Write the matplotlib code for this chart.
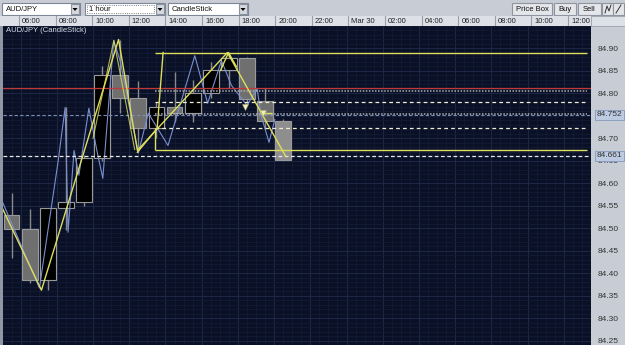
import matplotlib
matplotlib.use('Agg')
import matplotlib.pyplot as plt
import matplotlib.transforms as mtransforms
from matplotlib.patches import Rectangle, Polygon
import numpy as np

plt.rcParams['font.family'] = ['Liberation Sans', 'DejaVu Sans']

# hourly candles, Mar 29 (hour of day)
candle_hours = [5, 6, 7, 8, 9, 10, 11, 12, 13, 14, 15, 16, 17, 18, 19, 20]
opens = [84.529, 84.498, 84.384, 84.544, 84.558, 84.656, 84.842, 84.789,
         84.722, 84.769, 84.756, 84.800, 84.851, 84.878, 84.782, 84.738]
highs = [84.578, 84.542, 84.546, 84.769, 84.662, 84.862, 84.918, 84.827,
         84.780, 84.847, 84.829, 84.869, 84.891, 84.880, 84.811, 84.742]
lows = [84.433, 84.378, 84.362, 84.496, 84.550, 84.650, 84.756, 84.673,
        84.700, 84.736, 84.736, 84.790, 84.813, 84.775, 84.720, 84.651]
closes = [84.498, 84.384, 84.544, 84.558, 84.656, 84.842, 84.789, 84.722,
          84.769, 84.756, 84.800, 84.851, 84.878, 84.787, 84.738, 84.651]

# finer price line
line_hours = [4.96, 7.04, 8.08, 8.46, 8.62, 8.95, 9.22, 9.77, 10.21, 10.54, 11.14,
              11.52, 12.50, 13.05, 14.14, 15.62, 16.33, 17.09, 17.64, 18.51,
              19.06, 19.28, 19.72, 20.04]
line_prices = [84.562, 84.367, 84.651, 84.769, 84.491, 84.673, 84.618, 84.767,
               84.673, 84.611, 84.918, 84.869, 84.667, 84.756, 84.684, 84.884,
               84.778, 84.873, 84.818, 84.773, 84.811, 84.751, 84.691, 84.742]

# zigzag
zz_hours = [4.96, 7.15, 11.41, 12.45, 17.42, 20.64]
zz_prices = [84.547, 84.362, 84.920, 84.673, 84.891, 84.660]
zz2_hours = [12.45, 13.54, 13.87]
zz2_prices = [84.669, 84.722, 84.891]
zz3_hours = [10.0, 11.15, 12.30]
zz3_prices = [84.700, 84.918, 84.675]
peak_hours = [17.04, 17.48, 17.91]
peak_prices = [84.851, 84.891, 84.860]

# price box and levels
box_left = 13.43
box_top = 84.891
box_bottom = 84.673
box_notch = 84.722
red_level = 84.813
dotted_levels = [84.806, 84.755]
dashed_levels = [84.781, 84.724]
last_price = 84.752
bid_price = 84.661
marker_hours = [18.40, 19.39]
marker_prices = [84.769, 84.756]
stub_hours = [19.28, 19.88]

tick_hours = [6, 8, 10, 12, 14, 16, 18, 20, 22, 24, 26, 28, 30, 32, 34, 36]
tick_labels = ['06:00', '08:00', '10:00', '12:00', '14:00', '16:00', '18:00', '20:00',
               '22:00', 'Mar 30', '02:00', '04:00', '06:00', '08:00', '10:00', '12:00']
price_ticks = [84.25, 84.30, 84.35, 84.40, 84.45, 84.50, 84.55, 84.60,
               84.65, 84.70, 84.80, 84.85, 84.90]

W, H = 625, 345
YEL = '#dede5e'
fig = plt.figure(figsize=(W / 100, H / 100), dpi=100)
fig.patch.set_facecolor('#c8ccd4')

# ---- toolbar drawn in pixel space
ui = fig.add_axes([0, 0, 1, 1])
ui.set_xlim(0, W)
ui.set_ylim(H, 0)
ui.axis('off')

def box(x0, y0, x1, y1, fc, ec, lw=0.8, ls='-'):
    ui.add_patch(Rectangle((x0, y0), x1 - x0, y1 - y0, fc=fc, ec=ec, lw=lw, ls=ls))

for x0, x1, lab, focus in [(2, 80, 'AUD/JPY', False), (85, 165, '1 hour', True),
                           (168, 248, 'CandleStick', False)]:
    box(x0, 3, x1, 15, 'white', '#7d8796')
    box(x1 - 9, 4, x1 - 1, 14, '#d6d9de', '#8a929e')
    ui.add_patch(Polygon([(x1 - 7.5, 8), (x1 - 2.5, 8), (x1 - 5, 11)], fc='black', ec='none'))
    if focus:
        box(x0 + 2, 5, x1 - 11, 13, 'none', '#555555', lw=0.6, ls=':')
    ui.text(x0 + 4, 9.3, lab, fontsize=5.5, va='center', ha='left', color='#111111')

for x0, x1, lab in [(512, 552, 'Price Box'), (554, 576, 'Buy'), (578, 601, 'Sell')]:
    box(x0, 3, x1, 15, '#e4e6ea', '#8e95a1')
    ui.text((x0 + x1) / 2, 9.3, lab, fontsize=5.5, va='center', ha='center', color='#111111')
box(602, 3, 613, 15, '#e4e6ea', '#8e95a1')
box(613, 3, 624, 15, '#e4e6ea', '#8e95a1')
ui.plot([605, 607, 609, 611], [13, 6, 11, 5], color='#333333', lw=0.7)
ui.plot([616, 621], [13, 5], color='#333333', lw=0.7)
box(591, 16, 625, 26, '#dde0e6', '#9aa0aa', lw=0.6)
box(0, 26, 2.5, 345, '#8f96a4', 'none')

# ---- main chart
ax = fig.add_axes([2.5 / W, 0, (591 - 2.5) / W, 319 / H])
ax.set_facecolor('#0a1126')
xl = (5.10, 37.257)
ax.set_xlim(*xl)
ax.set_ylim(84.240, 84.949)
for s in ax.spines.values():
    s.set_visible(False)

ax.set_xticks(tick_hours)
ax.set_xticks(np.arange(5, 38, 0.5), minor=True)
ax.set_yticks(price_ticks)
ax.set_yticks(np.arange(84.24, 84.95, 0.01), minor=True)
ax.set_yticklabels([f'{p:.2f}' for p in price_ticks])
ax.yaxis.tick_right()
ax.tick_params(axis='y', which='both', length=0, pad=5, labelsize=6, labelcolor='#333333')
ax.tick_params(axis='x', which='both', length=0, labelbottom=False)
ax.grid(which='minor', color='#131b35', lw=0.6)
ax.grid(which='major', color='#1d2846', lw=0.7)
ax.set_axisbelow(True)

o = np.array(opens)
c = np.array(closes)
ch = np.array(candle_hours) + 0.5
bull = c > o
face = np.where(bull, '#000000', '#6f6f6f').astype(object)
face[-1] = '#8e8e8e'
ax.vlines(ch, lows, highs, color='#8a8a8a', lw=1, zorder=2)
ax.bar(ch, np.maximum(np.abs(c - o), 0.002), bottom=np.minimum(o, c), width=0.87,
       color=list(face), edgecolor='#999999', lw=0.8, zorder=3)

ax.plot(line_hours, line_prices, color='#7a8ed0', lw=0.8, zorder=4)

ax.axhline(red_level, color='#c03a3a', lw=0.9, zorder=5)
ax.axhline(last_price, color='#7e8cb2', lw=0.8, ls=(0, (3, 2)), zorder=5)
ax.axhline(bid_price, color='#e8e8e8', lw=0.9, ls=(0, (3, 2)), zorder=5)
ax.hlines(dotted_levels, box_left, xl[1], color='#a8acb4', lw=1.1, ls=(0, (1, 1)), zorder=5)
ax.hlines(dashed_levels, box_left, xl[1], color='#eeeed0', lw=0.9, ls=(0, (3, 2.5)), zorder=5)

ax.hlines([box_top, box_bottom], box_left, xl[1], color=YEL, lw=1, zorder=6)
ax.vlines(box_left, box_bottom, box_notch, color=YEL, lw=1, zorder=6)
ax.plot(zz_hours, zz_prices, color=YEL, lw=1, zorder=6)
ax.plot(zz2_hours, zz2_prices, color=YEL, lw=1, zorder=6)
ax.plot(zz3_hours, zz3_prices, color=YEL, lw=0.8, alpha=0.8, zorder=6)
ax.plot(peak_hours, peak_prices, color=YEL, lw=1, zorder=6)
ax.hlines(marker_prices[1], stub_hours[0], stub_hours[1], color=YEL, lw=1, zorder=6)
ax.scatter(marker_hours, marker_prices, marker='v', s=18, color='#f2efc4',
           edgecolor='#b8b070', lw=0.4, zorder=7)

ax.text(3 / 588, 1 - 5 / 319, 'AUD/JPY (CandleStick)', transform=ax.transAxes,
        fontsize=5.5, color='#d4dae8', va='center', ha='left')

trans = mtransforms.blended_transform_factory(ax.transAxes, ax.transData)
for p, lab in [(last_price, '84.752'), (bid_price, '84.661')]:
    ax.text(1 + 6 / 588, p, lab, transform=trans, fontsize=6, color='#333333',
            va='center', ha='left', clip_on=False, zorder=10,
            bbox=dict(boxstyle='square,pad=0.2', fc='#bccbe2', ec='#8499bd', lw=0.6))

# ---- time header
hax = fig.add_axes([0, 1 - 26 / H, 591 / W, 10 / H])
hax.set_facecolor('#dde0e6')
hax.set_xlim(xl[0] - 2.5 / 18.3, xl[1])
hax.set_ylim(0, 1)
hax.set_xticks([])
hax.set_yticks([])
for s in hax.spines.values():
    s.set_visible(False)
for t, lab in zip(tick_hours, tick_labels):
    hax.axvline(t, color='#9aa0aa', lw=0.8)
    hax.text(t + 0.17, 0.45, lab, fontsize=5.5, va='center', ha='left', color='#222222')

fig.savefig('out.png', dpi=100, facecolor=fig.get_facecolor())
